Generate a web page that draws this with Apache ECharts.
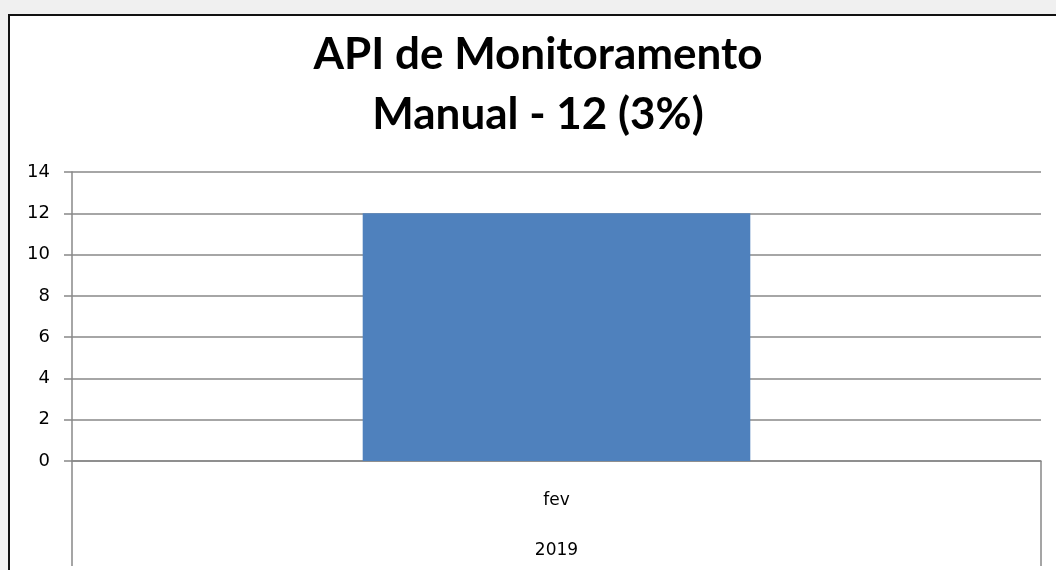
<!DOCTYPE html>
<html>
<head>
<meta charset="utf-8">
<script src="https://cdn.jsdelivr.net/npm/echarts@6/dist/echarts.min.js"></script>
<style>
  html, body { margin: 0; padding: 0; background: #f0f0f0; }
  #chart { width: 1056px; height: 570px; }
</style>
</head>
<body>
<div id="chart"></div>
<script>
const titleLines = ["API de Monitoramento", "Manual - 12 (3%)"];
const months = ["fev"];
const years = ["2019"];
const values = [12];
const yTicks = [0, 2, 4, 6, 8, 10, 12, 14];

const chart = echarts.init(document.getElementById("chart"));
const gridGray = "#888888";

chart.setOption({
  animation: false,
  backgroundColor: "#f0f0f0",
  graphic: [
    {
      type: "rect",
      z: -10,
      shape: { x: 9, y: 15, width: 1100, height: 600 },
      style: { fill: "#fff", stroke: "#111", lineWidth: 2 },
    },
  ],
  title: {
    text: titleLines.join("\n"),
    left: 533,
    textAlign: "center",
    top: 20,
    textStyle: {
      fontFamily: "Lato",
      fontWeight: "bold",
      fontSize: 44,
      lineHeight: 60,
      color: "#000",
    },
  },
  grid: { left: 72, right: 15, top: 172, bottom: 109, outerBoundsMode: "none" },
  xAxis: {
    type: "category",
    data: months,
    axisLine: { lineStyle: { color: gridGray, width: 1.5 } },
    axisTick: {
      show: true,
      length: 105,
      lineStyle: { color: gridGray, width: 1.5 },
    },
    axisLabel: {
      margin: 15,
      formatter: (v, i) => `{m|${v}}\n{y|${years[i]}}`,
      rich: {
        m: { fontFamily: "DejaVu Sans", fontSize: 17, color: "#000", lineHeight: 50 },
        y: { fontFamily: "DejaVu Sans", fontSize: 17, color: "#000", lineHeight: 50 },
      },
    },
  },
  yAxis: {
    type: "value",
    min: yTicks[0],
    max: yTicks[yTicks.length - 1],
    interval: 2,
    axisLine: { show: true, lineStyle: { color: gridGray, width: 1.5 } },
    axisTick: { show: true, length: 8, lineStyle: { color: gridGray, width: 1.5 } },
    axisLabel: {
      margin: 22,
      fontFamily: "DejaVu Sans",
      fontSize: 18,
      color: "#000",
    },
    splitLine: { lineStyle: { color: gridGray, width: 1.5 } },
  },
  series: [
    {
      type: "bar",
      data: values,
      barWidth: "40%",
      itemStyle: { color: "#4f81bd" },
    },
  ],
});
</script>
</body>
</html>
